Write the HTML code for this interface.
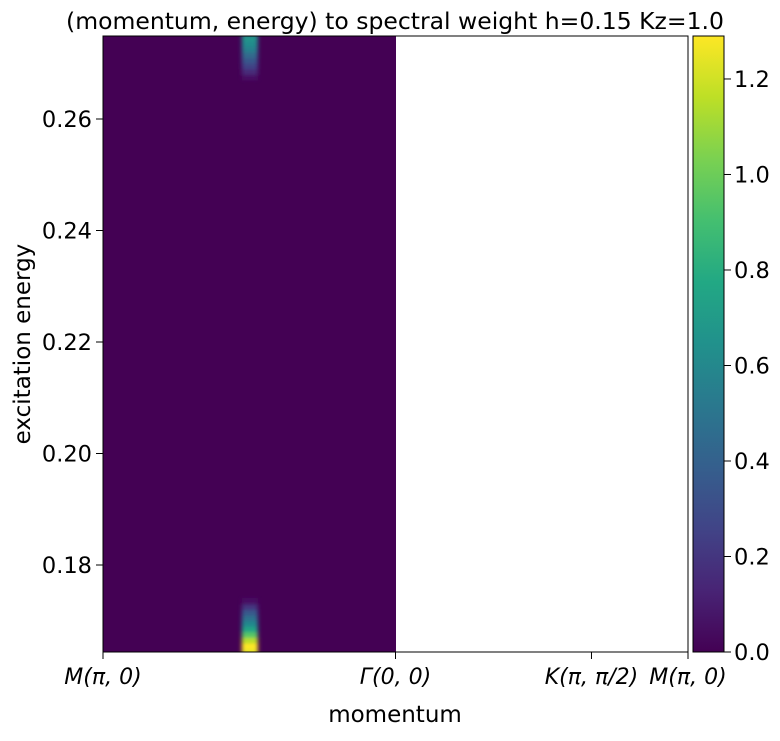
<!DOCTYPE html>
<html><head><meta charset="utf-8"><style>
body{margin:0;background:#fff;}
svg text{font-family:"DejaVu Sans","Liberation Sans",sans-serif;fill:#000;}
</style></head><body>
<svg id="chart" width="780" height="736" xmlns="http://www.w3.org/2000/svg">
<defs>
<filter id="blur" x="-50%" y="-10%" width="200%" height="120%"><feGaussianBlur stdDeviation="2 1.5"/></filter>
<linearGradient id="cbgrad" x1="0" y1="1" x2="0" y2="0">
<stop offset="0" stop-color="#440154"/><stop offset="0.1" stop-color="#482475"/><stop offset="0.2" stop-color="#414487"/><stop offset="0.3" stop-color="#355f8d"/><stop offset="0.4" stop-color="#2a788e"/><stop offset="0.5" stop-color="#21918c"/><stop offset="0.6" stop-color="#22a884"/><stop offset="0.7" stop-color="#44bf70"/><stop offset="0.8" stop-color="#7ad151"/><stop offset="0.9" stop-color="#bddf26"/><stop offset="1" stop-color="#fde725"/>
</linearGradient>
<clipPath id="plotclip"><rect x="103" y="36" width="293" height="616"/></clipPath>
</defs>
<text x="395" y="29" font-size="23.5" text-anchor="middle">(momentum, energy) to spectral weight h=0.15 Kz=1.0</text>
<rect x="103" y="36" width="293" height="616" fill="#440154"/>
<g id="cells" clip-path="url(#plotclip)" filter="url(#blur)"></g>
<rect x="103" y="36" width="585" height="616" fill="none" stroke="#000" stroke-width="1"/>
<g id="axes"></g>
<text x="395" y="722" font-size="23" text-anchor="middle">momentum</text>
<text transform="translate(30,344) rotate(-90)" font-size="23" text-anchor="middle">excitation energy</text>
<rect x="693" y="36" width="31" height="616" fill="url(#cbgrad)" stroke="#000" stroke-width="1"/>
</svg>
<script>
const energies=[0.1645,0.1655,0.1665,0.1675,0.1685,0.1695,0.1705,0.1715,0.1725,0.1735,0.2675,0.2685,0.2695,0.2705,0.2715,0.2725,0.2735,0.2745];
const intensities=[1.25,1.29,1.15,0.95,0.75,0.6,0.48,0.36,0.2,0.06,0.06,0.15,0.25,0.35,0.45,0.55,0.62,0.66];
const peakMomentum=0.251;
const yTicks=[0.18,0.20,0.22,0.24,0.26];
const xTickPos=[0,0.5,0.835,1];
const xTickLabels=["M(π, 0)","Γ(0, 0)","K(π, π/2)","M(π, 0)"];
const cbTicks=[0,0.2,0.4,0.6,0.8,1.0,1.2];
const vmax=1.29;
const X=m=>103+m*585;
const Y=e=>565-(e-0.18)/0.02*111.5;
const CB=v=>652-v/vmax*616;
const vir=["#440154","#482475","#414487","#355f8d","#2a788e","#21918c","#22a884","#44bf70","#7ad151","#bddf26","#fde725"];
function col(v){let t=Math.max(0,Math.min(1,v/vmax))*10;let i=Math.min(9,Math.floor(t)),f=t-i;
const a=vir[i],b=vir[i+1];const p=(s,k)=>parseInt(s.substr(k,2),16);
let c=[1,3,5].map(k=>Math.round(p(a,k)*(1-f)+p(b,k)*f));return `rgb(${c})`;}
const ns="http://www.w3.org/2000/svg";
const cells=document.getElementById('cells');
energies.forEach((e,i)=>{
 const r=document.createElementNS(ns,'rect');
 
 
 const h=111.5*0.001/0.02;
 r.setAttribute('x',X(peakMomentum)-8);r.setAttribute('width',16);
 r.setAttribute('y',Y(e)-h/2-0.5);r.setAttribute('height',h+1);
 r.setAttribute('fill',col(intensities[i]));cells.appendChild(r);
});
const ax=document.getElementById('axes');
function add(tag,attrs,txt){const el=document.createElementNS(ns,tag);for(const k in attrs)el.setAttribute(k,attrs[k]);if(txt!==undefined)el.textContent=txt;ax.appendChild(el);return el;}
yTicks.forEach(v=>{
 const l=add('line',{x1:96,x2:103,y1:Y(v),y2:Y(v),stroke:'#000'});
 
 
 const t=add('text',{x:92,y:Y(v)+8,'font-size':22.5,'text-anchor':'end'},v.toFixed(2));
 
 
});
xTickPos.forEach((m,i)=>{
 const l=add('line',{x1:X(m),x2:X(m),y1:652,y2:659,stroke:'#000'});
 
 
 const t=add('text',{x:X(m),y:684,'font-size':22,'text-anchor':'middle','font-style':'italic'},xTickLabels[i]);
 
 
});
cbTicks.forEach(v=>{
 const l=add('line',{x1:724,x2:731,y1:CB(v),y2:CB(v),stroke:'#000'});
 
 
 const t=add('text',{x:734,y:CB(v)+8,'font-size':22.5},v.toFixed(1));
 
 
});
</script>
</body></html>
